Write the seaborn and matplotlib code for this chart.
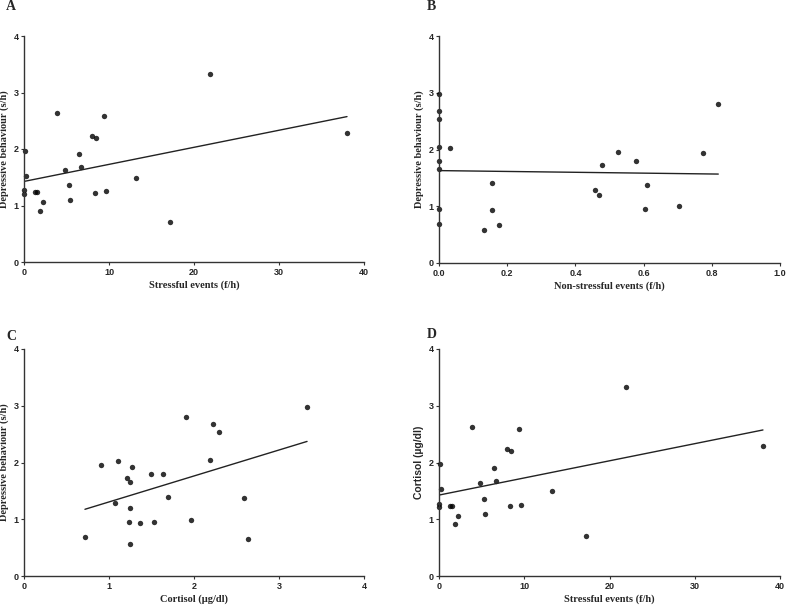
import numpy as np
import pandas as pd
import matplotlib
matplotlib.use("Agg")
import matplotlib.pyplot as plt
import seaborn as sns

# Panel A / D: stressful events vs cortisol-type values
stressful_events = [0.0, 0.0, 0.16, 0.24, 1.29, 1.57, 1.92, 2.27, 3.92, 4.78, 5.33, 5.41,
                    6.51, 6.71, 8.0, 8.5, 8.31, 9.41, 9.65, 13.2, 17.2, 21.9, 38.0]
cortisol_vals = [1.27, 1.21, 1.97, 1.53, 1.24, 1.24, 0.91, 1.06, 2.63, 1.63, 1.36, 1.10,
                 1.91, 1.68, 2.23, 2.20, 1.23, 2.59, 1.25, 1.49, 0.71, 3.33, 2.29]

# Panel B
non_stressful_events = [0.0, 0.0, 0.0, 0.0, 0.0, 0.0, 0.0, 0.0, 0.031, 0.133, 0.156, 0.156,
                        0.176, 0.457, 0.468, 0.477, 0.526, 0.579, 0.603, 0.611, 0.705, 0.773, 0.819]
depressive_b = [2.97, 2.68, 2.53, 2.04, 1.80, 1.66, 0.95, 0.69, 2.02, 0.58, 1.41, 0.93,
                0.67, 1.29, 1.19, 1.72, 1.96, 1.79, 0.95, 1.38, 1.00, 1.93, 2.81]

# Panel C
cortisol_c = [0.717, 0.909, 1.07, 1.10, 1.21, 1.24, 1.25, 1.25, 1.25, 1.27, 1.37, 1.49,
              1.53, 1.63, 1.69, 1.91, 1.97, 2.19, 2.22, 2.29, 2.59, 2.63, 3.33]
depressive_c = [0.69, 1.96, 1.29, 2.02, 1.72, 0.95, 1.20, 0.57, 1.66, 1.92, 0.94, 1.80,
                0.95, 1.80, 1.40, 2.81, 0.99, 2.04, 2.68, 2.53, 1.38, 0.66, 2.97]

panel_letters = ["A", "B", "C", "D"]
x_labels = ["Stressful events (f/h)", "Non-stressful events (f/h)",
            "Cortisol (\u00b5g/dl)", "Stressful events (f/h)"]
y_labels = ["Depressive behaviour (s/h)", "Depressive behaviour (s/h)",
            "Depressive behaviour (s/h)", "Cortisol (\u00b5g/dl)"]
x_ticks = [[0, 10, 20, 30, 40], [0.0, 0.2, 0.4, 0.6, 0.8, 1.0], [0, 1, 2, 3, 4], [0, 10, 20, 30, 40]]
x_ticklabels = [["0", "10", "20", "30", "40"], ["0.0", "0.2", "0.4", "0.6", "0.8", "1.0"],
                ["0", "1", "2", "3", "4"], ["0", "10", "20", "30", "40"]]
y_ticks = [0, 1, 2, 3, 4]

sns.set_style("ticks")
plt.rcParams["font.family"] = ["Liberation Sans", "DejaVu Sans"]

fig = plt.figure(figsize=(7.87, 6.06), dpi=100)
W, H = 787, 606
boxes = [(24, 36, 364, 262), (439, 36, 780, 263), (24, 349, 364, 576), (439, 349, 780, 576)]

datasets = [
    pd.DataFrame({"x": stressful_events, "y": cortisol_vals}),
    pd.DataFrame({"x": non_stressful_events, "y": depressive_b}),
    pd.DataFrame({"x": cortisol_c, "y": depressive_c}),
    pd.DataFrame({"x": stressful_events, "y": cortisol_vals}),
]

serif = ["Liberation Serif", "DejaVu Serif"]
for i, (l, t, r, b) in enumerate(boxes):
    ax = fig.add_axes([l / W, 1 - b / H, (r - l) / W, (b - t) / H])
    df = datasets[i]
    sns.regplot(data=df, x="x", y="y", ax=ax, ci=None, color="black",
                scatter_kws={"s": 15, "clip_on": False, "linewidths": 0},
                line_kws={"lw": 1.0, "color": "#222222"})
    ax.set_xlim(x_ticks[i][0], x_ticks[i][-1])
    ax.set_ylim(0, 4)
    ax.set_xticks(x_ticks[i])
    ax.set_xticklabels(x_ticklabels[i], fontweight="bold", fontsize=6.5)
    ax.set_yticks(y_ticks)
    ax.set_yticklabels([str(v) for v in y_ticks], fontweight="bold", fontsize=6.5)
    ax.tick_params(length=2.5, width=0.8, pad=1.5, color="#333333")
    for s in ["left", "bottom"]:
        ax.spines[s].set_linewidth(1.0)
        ax.spines[s].set_color("#333333")
    sns.despine(ax=ax)
    ax.set_xlabel(x_labels[i], family=serif, fontweight="bold", fontsize=7.5, labelpad=3)
    ax.set_ylabel(y_labels[i], family=serif, fontweight="bold", fontsize=7.5, labelpad=3)
    if i == 3:
        ax.set_ylabel(y_labels[i], family=["Liberation Sans", "DejaVu Sans"],
                      fontweight="bold", fontsize=7.5, labelpad=3)

letter_pos = [(6, 6), (427, 6), (6, 336), (427, 335)]
for (px, py), letter in zip(letter_pos, panel_letters):
    fig.text(px / W, 1 - py / H, letter, family=serif, fontweight="bold", fontsize=10,
             ha="left", va="center")

fig.savefig("out.png", dpi=100)
